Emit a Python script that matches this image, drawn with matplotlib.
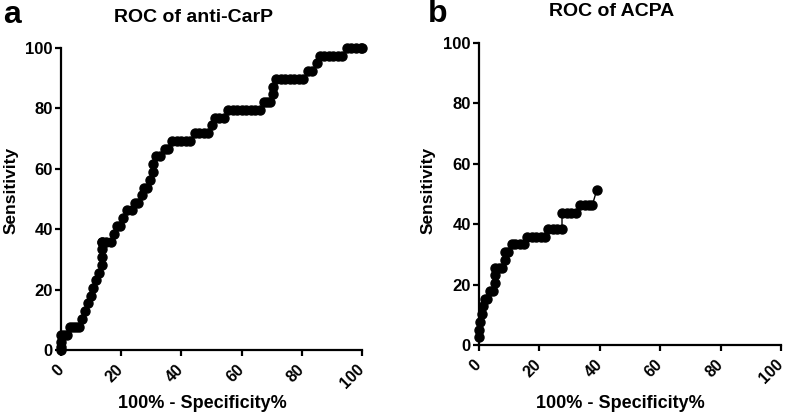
import matplotlib
matplotlib.use("Agg")
import matplotlib.pyplot as plt
import matplotlib.transforms as mtransforms

plt.rcParams["font.family"] = ["Liberation Sans", "DejaVu Sans"]
plt.rcParams["font.weight"] = "bold"

# %% data (100% - specificity, sensitivity)
carp_fpr = [0, 0, 0, 0, 1, 2, 3, 4, 5, 6,
            7, 8, 9, 10, 10.5, 11.5, 12.5, 13.5, 13.5, 13.5,
            13.5, 13.5, 15, 16.5, 17.5, 18.5, 19.5, 20.5, 22, 23.5,
            24.5, 25.5, 27, 27.5, 28.5, 29.5, 30.5, 30.5, 31.5, 33,
            34.5, 35.5, 37, 38.5, 40, 41.5, 43, 44.5, 46, 47.5,
            49, 50, 51, 52.5, 54, 55.5, 57, 58.5, 60, 61.5,
            63, 64.5, 66, 67.5, 68.5, 69.5, 70.5, 70.5, 71.5, 73,
            74.5, 76, 77.5, 79, 80.5, 82, 83.5, 85, 86, 87.5,
            89, 90.5, 92, 93.5, 95, 96.5, 98, 99.5, 100]
carp_sens = [0, 1, 2.5, 5, 5, 5, 7.7, 7.7, 7.7, 7.7,
             10.3, 12.8, 15.4, 17.9, 20.5, 23.1, 25.6, 28.2, 30.8, 33.3,
             35.9, 35.9, 35.9, 35.9, 38.5, 41, 41, 43.6, 46.2, 46.2,
             48.7, 48.7, 51.3, 53.8, 53.8, 56.4, 59, 61.5, 64.1, 64.1,
             66.7, 66.7, 69.2, 69.2, 69.2, 69.2, 69.2, 71.8, 71.8, 71.8,
             71.8, 74.4, 76.9, 76.9, 76.9, 79.5, 79.5, 79.5, 79.5, 79.5,
             79.5, 79.5, 79.5, 82, 82, 82, 84.6, 87.2, 89.7, 89.7,
             89.7, 89.7, 89.7, 89.7, 89.7, 92.3, 92.3, 94.9, 97.4, 97.4,
             97.4, 97.4, 97.4, 97.4, 100, 100, 100, 100, 100]

acpa_fpr = [0, 0, 0.5, 1, 1.5, 2, 2.5, 3.5, 4.5, 5.3,
            5.3, 5.3, 6.5, 7.5, 8.5, 8.5, 9.5, 11, 12, 13.5,
            15, 16, 17.5, 19, 20.5, 22, 23, 24.5, 26, 27.5,
            27.5, 29, 30.5, 32, 33.5, 35, 36.5, 37.5, 39]
acpa_sens = [2.6, 5.1, 7.7, 10.3, 12.8, 15.4, 15.4, 17.9, 17.9, 20.5,
             23.1, 25.6, 25.6, 25.6, 28.2, 30.8, 30.8, 33.3, 33.3, 33.3,
             33.3, 35.9, 35.9, 35.9, 35.9, 35.9, 38.5, 38.5, 38.5, 38.5,
             43.6, 43.6, 43.6, 43.6, 46.2, 46.2, 46.2, 46.2, 51.3]

ticks = [0, 20, 40, 60, 80, 100]

# %% figure
fig = plt.figure(figsize=(7.87, 4.18), dpi=100)
ax_a = fig.add_axes([0.0775, 0.1627, 0.3825, 0.7225])
ax_b = fig.add_axes([0.6086, 0.1746, 0.3837, 0.7225])

# nudge rotated x tick labels a little down, like the original
nudge = mtransforms.ScaledTranslation(0, -2 / 100, fig.dpi_scale_trans)

panels = [
    (ax_a, carp_fpr, carp_sens),
    (ax_b, acpa_fpr, acpa_sens),
]
for ax, xs, ys in panels:
    ax.plot(xs, ys, color="black", lw=1.0, marker="o", ms=6.5,
            mfc="black", mec="black", clip_on=False, zorder=3)
    ax.set_xlim(0, 100)
    ax.set_ylim(0, 100)
    ax.set_xticks(ticks)
    ax.set_yticks(ticks)
    for side in ("top", "right"):
        ax.spines[side].set_visible(False)
    for side in ("left", "bottom"):
        ax.spines[side].set_linewidth(1.6)
    ax.tick_params(direction="out", length=4, width=1.6, labelsize=12)
    ax.tick_params(axis="y", pad=2)
    ax.tick_params(axis="x", pad=7, labelsize=11.5)
    plt.setp(ax.get_xticklabels(), rotation=45, ha="right", va="center",
             rotation_mode="anchor")
    for lab in ax.get_xticklabels():
        lab.set_transform(lab.get_transform() + nudge)
    for lab in ax.get_xticklabels() + ax.get_yticklabels():
        lab.set_fontweight("bold")

# titles, panel letters and axis labels placed like the original
fig.text(193 / 787, 1 - 17 / 418, "ROC of anti-CarP", ha="center", va="center",
         fontsize=14, fontweight="bold")
fig.text(612 / 787, 1 - 11 / 418, "ROC of ACPA", ha="center", va="center",
         fontsize=14, fontweight="bold")
fig.text(3 / 787, 1 - 15 / 418, "a", ha="left", va="center",
         fontsize=23, fontweight="bold")
fig.text(428 / 787, 1 - 14 / 418, "b", ha="left", va="center",
         fontsize=23, fontweight="bold")

fig.text(11 / 787, 1 - 190 / 418, "Sensitivity", rotation=90, ha="center",
         va="center", fontsize=12.5, fontweight="bold")
fig.text(428 / 787, 1 - 190 / 418, "Sensitivity", rotation=90, ha="center",
         va="center", fontsize=12.5, fontweight="bold")
fig.text(202 / 787, 1 - 404 / 418, "100% - Specificity%", ha="center",
         va="center", fontsize=13, fontweight="bold")
fig.text(620 / 787, 1 - 404 / 418, "100% - Specificity%", ha="center",
         va="center", fontsize=13, fontweight="bold")

fig.savefig("out.png", dpi=100)
